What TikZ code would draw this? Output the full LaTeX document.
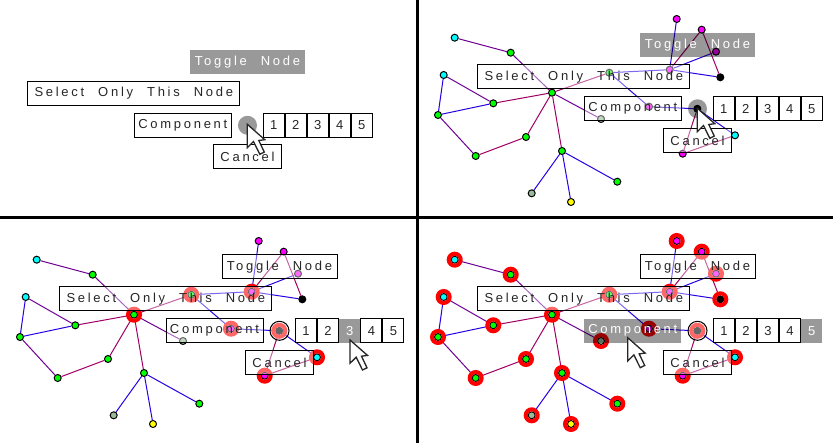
\documentclass[tikz,border=0pt]{standalone}
\usepackage{fontspec}
\usetikzlibrary{positioning,backgrounds}
\newfontfamily\menufont[LetterSpace=21,WordSpace=2.2]{Liberation Sans}
\definecolor{edgeblue}{RGB}{40,0,230}
\definecolor{edgepurple}{RGB}{110,0,150}
\definecolor{edgecrimson}{RGB}{160,0,100}
\definecolor{hotgray}{RGB}{153,153,153}
\definecolor{nodegreen}{RGB}{0,255,0}
\definecolor{nodecyan}{RGB}{0,255,255}
\definecolor{nodemagenta}{RGB}{255,0,255}
\definecolor{nodeyellow}{RGB}{255,255,0}
\definecolor{nodered}{RGB}{255,0,0}
\definecolor{dullgreen}{RGB}{153,187,153}

% the network, #1 prefix, #2 shift, #3 nodes with a red ring
\newcommand{\netgraph}[3]{
	\begin{scope}[shift={#2}, name prefix=#1]
		\foreach \nodename/\xpos/\ypos/\nodecolor in {
			cyanone/454.7/37.7/nodecyan, greenone/510.7/52.7/nodegreen, cyantwo/443.7/75/nodecyan,
			greentwo/493.3/103.3/nodegreen, greenthree/438/115/nodegreen, middle/552/92.7/nodegreen,
			greenfour/526/137/nodegreen, greenfive/475.7/156/nodegreen, greensix/562/151/nodegreen,
			greenseven/617.3/181.7/nodegreen, dullone/531.7/193.3/dullgreen, yellowone/571/202/nodeyellow,
			dulltwo/601/119/dullgreen, greentop/609.3/72.7/nodegreen, magentaone/676.7/19/nodemagenta,
			magentatwo/701.7/29.7/nodemagenta, magentathree/716/51.7/nodemagenta, magentafour/669.7/69.7/nodemagenta,
			blackone/720.3/77.3/black, magentafive/649/106.7/nodemagenta, blacktwo/697.3/108.8/black,
			cyanthree/735/135.3/nodecyan, magentasix/682.7/153.7/nodemagenta}
			\node[dot, fill=\nodecolor] (\nodename) at (\xpos,\ypos) {};
		\begin{scope}[on background layer]
			\foreach \from/\to/\edgecolor in {
				cyanone/greenone/edgepurple, greenone/middle/edgepurple, cyantwo/greentwo/edgepurple,
				cyantwo/greenthree/edgeblue, greenthree/greentwo/edgeblue, greenthree/greenfive/edgepurple,
				greentwo/middle/edgecrimson, greenfour/middle/edgecrimson, greenfive/greenfour/edgecrimson,
				middle/greensix/edgecrimson, greensix/greenseven/edgeblue, greensix/dullone/edgeblue,
				greensix/yellowone/edgeblue, middle/dulltwo/edgepurple, middle/greentop/edgecrimson,
				greentop/magentafour/edgeblue, magentafour/blackone/edgeblue, greentop/magentafive/edgeblue,
				magentafour/magentaone/edgeblue, magentafour/magentatwo/edgecrimson,
				magentafour/magentathree/edgeblue, magentatwo/blackone/edgecrimson,
				magentafive/blacktwo/edgeblue, blacktwo/cyanthree/edgeblue,
				blacktwo/magentasix/edgecrimson, magentasix/cyanthree/edgecrimson}
				\draw[edgeline, \edgecolor] (\from) -- (\to);
		\end{scope}
		\foreach \ringed in {#3}
			\draw[ringline] (\ringed) circle (6);
	\end{scope}
}

% the pie menu, #1 prefix, #2 place of the hub, #3 items that are hot
\newcommand{\piemenu}[3]{
	\begin{scope}[name prefix=#1, #3]
		\node[hubitem] (hub) at #2 {};
		\node[toggleitem, minimum width=115pt] (toggle) [above=41.5pt of hub] {Toggle Node};
		\node[selectitem, minimum width=212pt] (select) at ([shift={(-113.7,-32)}]hub) {Select Only This Node};
		\node[componentitem, minimum width=97pt] (component) [left=6pt of hub] {Component};
		\node[cancelitem, minimum width=68.5pt] (cancel) [below=9.5pt of hub] {Cancel};
		\node[digitoneitem] (one) [right=5.5pt of hub] {1};
		\node[digittwoitem] (two) [right=0pt of one] {2};
		\node[digitthreeitem] (three) [right=0pt of two] {3};
		\node[digitfouritem] (four) [right=0pt of three] {4};
		\node[digitfiveitem] (five) [right=0pt of four] {5};
	\end{scope}
}

\begin{document}
\begin{tikzpicture}[
		x=1pt, y=-1pt,
		dot/.style={circle, draw=black, line width=1pt, inner sep=0pt, minimum size=7pt},
		edgeline/.style={line width=1pt},
		ringline/.style={draw=nodered, line width=4pt},
		menuitem/.style={rectangle, draw=black, line width=1pt, fill=white, fill opacity=0.4, text opacity=1,
			text=black!85, inner sep=0pt, minimum height=24pt, font=\menufont\fontsize{13}{15}\selectfont},
		hotitem/.style={rectangle, preaction={fill=hotgray, blend mode=multiply}, text=white,
			inner sep=0pt, minimum height=24pt, font=\menufont\fontsize{13}{15}\selectfont},
		hubitem/.style={circle, draw=black, line width=1pt, fill=white, fill opacity=0.4, inner sep=0pt, minimum size=19pt},
		hubhot/.style={circle, preaction={fill=hotgray, blend mode=multiply}, inner sep=0pt, minimum size=19pt},
		toggleitem/.style={menuitem}, selectitem/.style={menuitem}, componentitem/.style={menuitem},
		cancelitem/.style={menuitem},
		digit/.style={menuitem, minimum width=21pt},
		digithot/.style={hotitem, minimum width=21pt},
		digitoneitem/.style={digit}, digittwoitem/.style={digit}, digitthreeitem/.style={digit},
		digitfouritem/.style={digit}, digitfiveitem/.style={digit},
		arrowcursor/.pic={
			\draw[black!85, fill=white, line width=1.3pt, line join=miter]
				(0,0) -- (0,23.3) -- (6.2,17.2) -- (12.5,30) -- (17,27.8) -- (11.5,16.2) -- (17.5,15.4) -- cycle;
		}
	]
	\useasboundingbox (0,0) rectangle (833,443);
	\begin{scope}[on background layer]
		\fill[white] (0,0) rectangle (833,443);
	\end{scope}

	\netgraph{tr}{(0,0)}{}
	\netgraph{bl}{(-418,222)}{middle,greentop,magentafour,magentafive,blacktwo,cyanthree,magentasix}
	\netgraph{br}{(0,222)}{cyanone,greenone,cyantwo,greentwo,greenthree,middle,greenfour,greenfive,greensix,
		greenseven,dullone,yellowone,dulltwo,greentop,magentaone,magentatwo,magentathree,magentafour,
		blackone,magentafive,blacktwo,cyanthree,magentasix}

	\piemenu{tl}{(247.5,125.3)}{hubitem/.style=hubhot, toggleitem/.style=hotitem}
	\piemenu{trm}{(697.5,108.8)}{hubitem/.style=hubhot, toggleitem/.style=hotitem}
	\piemenu{blm}{(279.5,330.8)}{digitthreeitem/.style=digithot}
	\piemenu{brm}{(697.5,330.8)}{componentitem/.style=hotitem, digitfiveitem/.style=digithot}

	\pic at (247.3,124.3) {arrowcursor};
	\pic at (697.3,108.3) {arrowcursor};
	\pic at (350,340) {arrowcursor};
	\pic at (627.7,337.7) {arrowcursor};

	% panel borders
	\coordinate (midtop) at (417,0);
	\coordinate (midbottom) at (417,443);
	\coordinate (midleft) at (0,218);
	\coordinate (midright) at (833,218);
	\draw[line width=3pt] (midtop) -- (midbottom);
	\draw[line width=3pt] (midleft) -- (midright);
\end{tikzpicture}
\end{document}
